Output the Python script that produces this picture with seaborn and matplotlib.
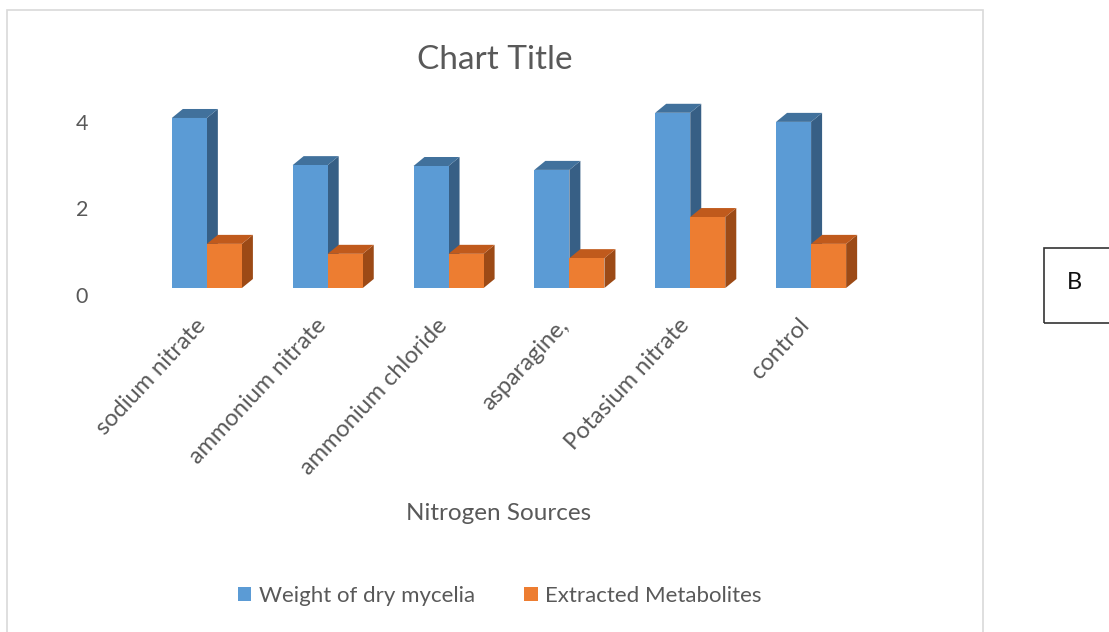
import numpy as np
import pandas as pd
import matplotlib
matplotlib.use("Agg")
import matplotlib.pyplot as plt
from matplotlib.patches import Polygon, Rectangle
from matplotlib.transforms import ScaledTranslation
import seaborn as sns

# Nitrogen source trial results
sources = ["sodium nitrate", "ammonium nitrate", "ammonium chloride",
           "asparagine,", "Potasium nitrate", "control"]
dry_mycelia = [3.93, 2.84, 2.82, 2.73, 4.05, 3.84]
metabolites = [1.02, 0.79, 0.79, 0.69, 1.64, 1.02]
series_names = ["Weight of dry mycelia", "Extracted Metabolites"]
y_ticks = [0, 2, 4]

front_colors = ["#5b9bd5", "#ed7d31"]
top_colors = ["#41719c", "#c05a1c"]
side_colors = ["#375f85", "#9c4a16"]
text_grey = "#595959"

df = pd.DataFrame({
    "source": sources * 2,
    "value": dry_mycelia + metabolites,
    "series": [series_names[0]] * len(sources) + [series_names[1]] * len(sources),
})

sns.set_theme(style="white")
plt.rcParams["font.family"] = ["Lato", "DejaVu Sans"]

W, H, DPI = 1109, 632, 100
fig = plt.figure(figsize=(W / DPI, H / DPI), dpi=DPI)

# chart frame and side label box
fig.patches.append(Rectangle((7 / W, -0.01), (983 - 7) / W, 1.01 - 10 / H,
                             transform=fig.transFigure, fill=False,
                             edgecolor="#d9d9d9", linewidth=1.2))
fig.patches.append(Rectangle((1044 / W, 1 - 323 / H), 80 / W, 75 / H,
                             transform=fig.transFigure, fill=False,
                             edgecolor="#333333", linewidth=1.2))
fig.text(1074 / W, 1 - 283 / H, "B", ha="center", va="center",
         fontsize=17, color="#111111")

ax_left, ax_right, ax_bottom, ax_top = 95, 880, 288, 89
ax = fig.add_axes([ax_left / W, 1 - ax_bottom / H,
                   (ax_right - ax_left) / W, (ax_bottom - ax_top) / H])

sns.barplot(data=df, x="source", y="value", hue="series",
            palette=front_colors, width=0.58, saturation=1,
            linewidth=0, ax=ax, legend=False)

px_per_cat = 121
ax.set_xlim(-(207 - ax_left) / px_per_cat, 5 + (ax_right - 811) / px_per_cat)
ax.set_ylim(0, 4.6)

# depth of the extruded bars, in pixels converted to data units
depth_px_x, depth_px_y = 11, 9
inv = ax.transData.inverted()
o = ax.transData.transform((0, 0))
ddx, ddy = inv.transform((o[0] + depth_px_x, o[1] + depth_px_y)) - inv.transform(o)

bars = [p for p in ax.patches if isinstance(p, Rectangle) and p.get_width() > 0]
n = len(sources)
for s in range(2):
    for i, bar in enumerate(bars[s * n:(s + 1) * n]):
        x0, w, h = bar.get_x(), bar.get_width(), bar.get_height()
        x1 = x0 + w
        bar.set_zorder(2 + 2 * s)
        top = Polygon([(x0, h), (x1, h), (x1 + ddx, h + ddy), (x0 + ddx, h + ddy)],
                      closed=True, facecolor=top_colors[s], edgecolor="none",
                      zorder=1.9 + 2 * s)
        side = Polygon([(x1, 0), (x1 + ddx, ddy), (x1 + ddx, h + ddy), (x1, h)],
                       closed=True, facecolor=side_colors[s], edgecolor="none",
                       zorder=1.9 + 2 * s)
        ax.add_patch(side)
        ax.add_patch(top)

for sp in ax.spines.values():
    sp.set_visible(False)
ax.grid(False)
ax.set_xlabel("")
ax.set_ylabel("")

ax.set_yticks(y_ticks)
ax.set_yticklabels([str(t) for t in y_ticks], fontsize=15.5, color=text_grey)
ax.tick_params(axis="y", length=0, pad=5)
shift = ScaledTranslation(0, -7 / DPI, fig.dpi_scale_trans)
for lab in ax.get_yticklabels():
    lab.set_transform(lab.get_transform() + shift)

ax.set_xticks(range(n))
ax.set_xticklabels(sources, rotation=47, ha="right", va="center",
                   rotation_mode="anchor", fontsize=17, color=text_grey)
ax.tick_params(axis="x", length=0, pad=23)
xshift = ScaledTranslation(-5 / DPI, -2 / DPI, fig.dpi_scale_trans)
for lab in ax.get_xticklabels():
    lab.set_transform(lab.get_transform() + xshift)

fig.text(495 / W, 1 - 60 / H, "Chart Title", ha="center", va="center",
         fontsize=24, color=text_grey)
fig.text(499 / W, 1 - 514 / H, "Nitrogen Sources", ha="center", va="center",
         fontsize=17.5, color=text_grey)

handles = [Rectangle((0, 0), 1, 1, facecolor=c, edgecolor="none") for c in front_colors]
leg = fig.legend(handles, series_names, loc="center",
                 bbox_to_anchor=(500 / W, 1 - 596 / H), ncol=2, frameon=False,
                 fontsize=16, handlelength=0.6, handleheight=0.6,
                 handletextpad=0.35, columnspacing=2.2)
for t in leg.get_texts():
    t.set_color(text_grey)

fig.savefig("out.png", dpi=DPI)
